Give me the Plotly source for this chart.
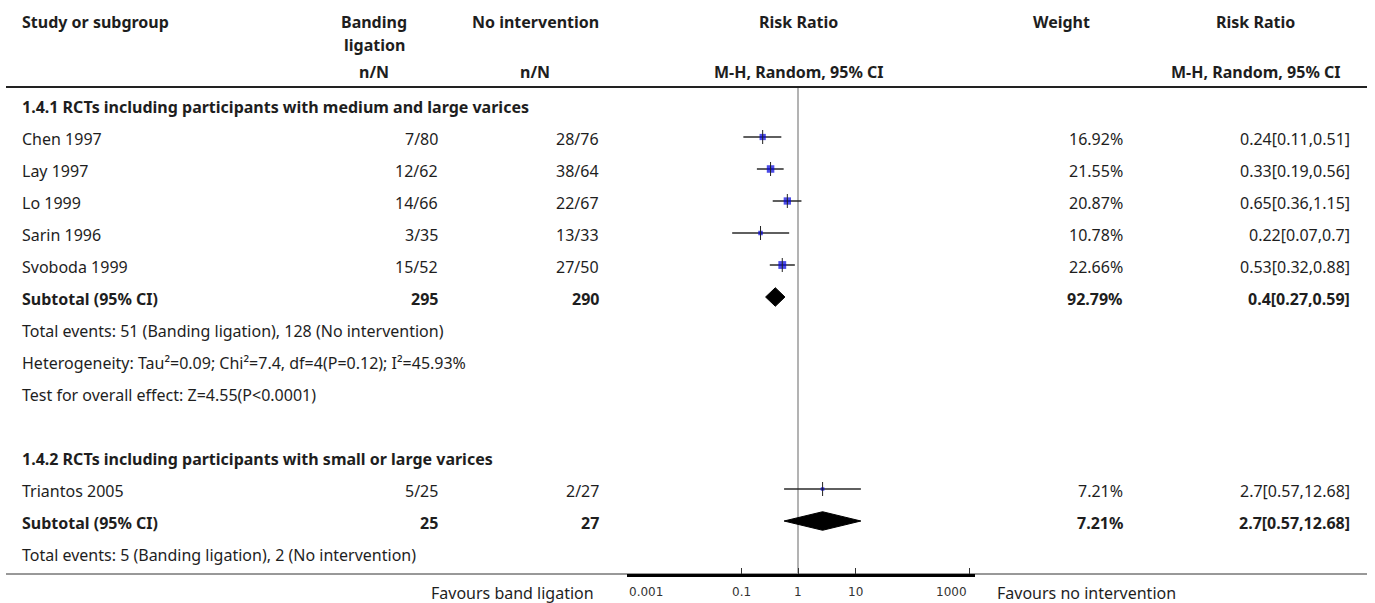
import numpy as np
import plotly.graph_objects as go

# ---- study-level data -------------------------------------------------------
studies = ["Chen 1997", "Lay 1997", "Lo 1999", "Sarin 1996", "Svoboda 1999", "Triantos 2005"]
group = [1, 1, 1, 1, 1, 2]
events_bl = [7, 12, 14, 3, 15, 5]
total_bl = [80, 62, 66, 35, 52, 25]
events_ni = [28, 38, 22, 13, 27, 2]
total_ni = [76, 64, 67, 33, 50, 27]
rr = [0.24, 0.33, 0.65, 0.22, 0.53, 2.7]
rr_lo = [0.11, 0.19, 0.36, 0.07, 0.32, 0.57]
rr_hi = [0.51, 0.56, 1.15, 0.7, 0.88, 12.68]
weight = [16.92, 21.55, 20.87, 10.78, 22.66, 7.21]

# ---- subgroup data ----------------------------------------------------------
sub_titles = ["1.4.1 RCTs including participants with medium and large varices",
              "1.4.2 RCTs including participants with small or large varices"]
sub_n_bl = [295, 25]
sub_n_ni = [290, 27]
sub_ev_bl = [51, 5]
sub_ev_ni = [128, 2]
sub_rr = [0.4, 2.7]
sub_lo = [0.27, 0.57]
sub_hi = [0.59, 12.68]
sub_weight = [92.79, 7.21]
sub_extra = [
    ["Heterogeneity: Tau\u00b2=0.09; Chi\u00b2=7.4, df=4(P=0.12); I\u00b2=45.93%",
     "Test for overall effect: Z=4.55(P<0.0001)"],
    [],
]

tick_vals = [0.001, 0.1, 1, 10, 1000]
tick_text = ["0.001", "0.1", "1", "10", "1000"]
favours_left = "Favours band ligation"
favours_right = "Favours no intervention"

# ---- layout constants (pixels) ----------------------------------------------
W, H = 1375, 603
ROW0_PX, ROW_H = 105, 32          # centre of first table row, row pitch
TOP_LINE_PX, BOT_LINE_PX = 87, 574
PLOT_L_PX, PLOT_R_PX = 627, 975   # log axis span, 0.001 .. just past 1000
DECADE_PX = 57

FONT = "Noto Sans, Open Sans, sans-serif"
FS = 16
TXT = "#1e1e1e"

def px_x(px):
    return px / W

def px_y(px):
    return 1 - px / H

def fmt_ci(est, lo, hi):
    return f"{est:g}[{lo:g},{hi:g}]"

# ---- build the table rows ---------------------------------------------------
rows = []   # (kind, payload)
for g in (1, 2):
    gi = g - 1
    rows.append(("title", gi))
    for i, s in enumerate(studies):
        if group[i] == g:
            rows.append(("study", i))
    rows.append(("subtotal", gi))
    rows.append(("text", f"Total events: {sub_ev_bl[gi]} (Banding ligation), {sub_ev_ni[gi]} (No intervention)"))
    for t in sub_extra[gi]:
        rows.append(("text", t))
    if g == 1:
        rows.append(("blank", None))

y_bottom = (BOT_LINE_PX - ROW0_PX) / ROW_H
y_top = (TOP_LINE_PX - ROW0_PX) / ROW_H

# column anchors (pixel x)
COL_NAME = 20
COL_BL = 440
COL_NI = 601
COL_W = 1125
COL_RR = 1352

annotations = []

def add_text(x_px, row, text, bold=False, anchor="left"):
    annotations.append(dict(
        x=px_x(x_px), xref="paper", y=row, yref="y", yshift=-2,
        text=f"<b>{text}</b>" if bold else text,
        showarrow=False, xanchor=anchor, yanchor="middle",
        font=dict(family=FONT, size=FS, color=TXT)))

ci_x, ci_y = [], []
sq_x, sq_y, sq_s = [], [], []
dia_traces = []

for r, (kind, p) in enumerate(rows):
    if kind == "title":
        add_text(COL_NAME, r, sub_titles[p], bold=True)
    elif kind == "study":
        i = p
        add_text(COL_NAME, r, studies[i])
        add_text(COL_BL, r, f"{events_bl[i]}/{total_bl[i]}", anchor="right")
        add_text(COL_NI, r, f"{events_ni[i]}/{total_ni[i]}", anchor="right")
        add_text(COL_W, r, f"{weight[i]:.2f}%", anchor="right")
        add_text(COL_RR, r, fmt_ci(rr[i], rr_lo[i], rr_hi[i]), anchor="right")
        ci_x += [rr_lo[i], rr_hi[i], None]
        ci_y += [r, r, None]
        sq_x.append(rr[i]); sq_y.append(r); sq_s.append(1.5 + 0.28 * weight[i])
    elif kind == "subtotal":
        gi = p
        add_text(COL_NAME, r, "Subtotal (95% CI)", bold=True)
        add_text(COL_BL, r, str(sub_n_bl[gi]), bold=True, anchor="right")
        add_text(COL_NI, r, str(sub_n_ni[gi]), bold=True, anchor="right")
        add_text(COL_W, r, f"{sub_weight[gi]:.2f}%", bold=True, anchor="right")
        add_text(COL_RR, r, fmt_ci(sub_rr[gi], sub_lo[gi], sub_hi[gi]), bold=True, anchor="right")
        h = 0.29
        dia_traces.append(go.Scatter(
            x=[sub_lo[gi], sub_rr[gi], sub_hi[gi], sub_rr[gi], sub_lo[gi]],
            y=[r, r - h, r, r + h, r],
            mode="lines", fill="toself", fillcolor="black",
            line=dict(color="black", width=1), hoverinfo="skip", showlegend=False))
    elif kind == "text":
        add_text(COL_NAME, r, p)

# column headers
def add_head(x_px, y_px, text, anchor="center"):
    annotations.append(dict(
        x=px_x(x_px), xref="paper", y=px_y(y_px), yref="paper",
        text=f"<b>{text}</b>", showarrow=False, xanchor=anchor, yanchor="middle",
        font=dict(family=FONT, size=FS, color=TXT)))

add_head(COL_NAME, 22, "Study or subgroup", anchor="left")
add_head(374, 22, "Banding")
add_head(374, 45, "ligation")
add_head(374, 72, "n/N")
add_head(535, 22, "No intervention")
add_head(535, 72, "n/N")
add_head(798, 22, "Risk Ratio")
add_head(798, 72, "M-H, Random, 95% CI")
add_head(1061, 22, "Weight")
add_head(1255, 22, "Risk Ratio")
add_head(1255, 72, "M-H, Random, 95% CI")

# axis tick labels, placed on the log axis itself
for k, (v, t) in enumerate(zip(tick_vals, tick_text)):
    anchor = "left" if k == 0 else ("right" if k == len(tick_vals) - 1 else "center")
    annotations.append(dict(
        x=np.log10(v), xref="x", y=px_y(592), yref="paper", text=t,
        showarrow=False, xanchor=anchor, yanchor="middle",
        font=dict(family="DejaVu Sans", size=12, color="#333")))

annotations.append(dict(x=px_x(596), xref="paper", y=px_y(593), yref="paper",
                        text=favours_left, showarrow=False, xanchor="right", yanchor="middle",
                        font=dict(family=FONT, size=FS, color=TXT)))
annotations.append(dict(x=px_x(995), xref="paper", y=px_y(593), yref="paper",
                        text=favours_right, showarrow=False, xanchor="left", yanchor="middle",
                        font=dict(family=FONT, size=FS, color=TXT)))

fig = go.Figure()

# line of no effect
fig.add_trace(go.Scatter(x=[1, 1], y=[y_top, y_bottom], mode="lines",
                         line=dict(color="#9a9a9a", width=1.5),
                         hoverinfo="skip", showlegend=False))
# confidence intervals
fig.add_trace(go.Scatter(x=ci_x, y=ci_y, mode="lines",
                         line=dict(color="#2a2a2a", width=1.5),
                         hoverinfo="skip", showlegend=False))
# study weights as squares
fig.add_trace(go.Scatter(x=sq_x, y=sq_y, mode="markers",
                         marker=dict(symbol="square", size=sq_s, color="#0000dd",
                                     line=dict(width=0)),
                         hoverinfo="skip", showlegend=False))
# point-estimate ticks
fig.add_trace(go.Scatter(x=sq_x, y=sq_y, mode="markers",
                         marker=dict(symbol="line-ns", size=10,
                                     line=dict(width=1, color="#222")),
                         hoverinfo="skip", showlegend=False))
for t in dia_traces:
    fig.add_trace(t)

log_lo = -3
log_hi = log_lo + (PLOT_R_PX - PLOT_L_PX) / DECADE_PX

fig.update_layout(
    width=W, height=H,
    margin=dict(l=0, r=0, t=0, b=0),
    paper_bgcolor="white", plot_bgcolor="white",
    showlegend=False,
    xaxis=dict(type="log", domain=[px_x(PLOT_L_PX), px_x(PLOT_R_PX)],
               range=[log_lo, log_hi], showgrid=False, zeroline=False,
               showline=True, linecolor="black", linewidth=2.5,
               ticks="inside", ticklen=6, tickwidth=1, tickcolor="#333",
               tickvals=tick_vals, showticklabels=False, fixedrange=True),
    yaxis=dict(domain=[px_y(BOT_LINE_PX), px_y(TOP_LINE_PX)],
               range=[y_bottom, y_top], visible=False, fixedrange=True),
    annotations=annotations,
    shapes=[
        dict(type="line", xref="paper", yref="paper", x0=px_x(6), x1=px_x(1367),
             y0=px_y(TOP_LINE_PX), y1=px_y(TOP_LINE_PX),
             line=dict(color="#222", width=2)),
        dict(type="line", xref="paper", yref="paper", x0=px_x(6), x1=px_x(1367),
             y0=px_y(BOT_LINE_PX), y1=px_y(BOT_LINE_PX),
             line=dict(color="#333", width=1), layer="below"),
    ],
)

fig.write_html("out.html")
